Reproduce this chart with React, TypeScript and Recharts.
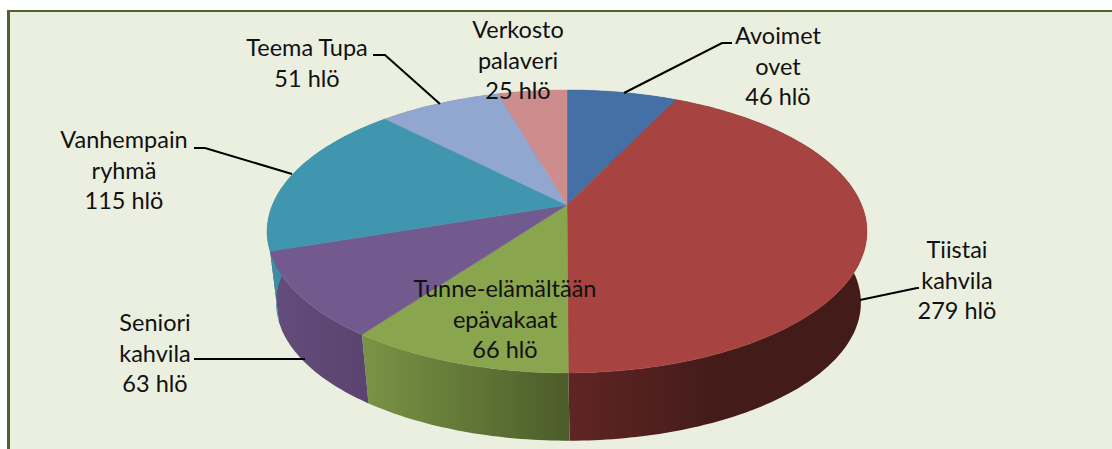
import { Cell, Pie, PieChart } from 'recharts'

const sliceNames = [
  ['Avoimet', 'ovet'],
  ['Tiistai', 'kahvila'],
  ['Tunne-elämältään', 'epävakaat'],
  ['Seniori', 'kahvila'],
  ['Vanhempain', 'ryhmä'],
  ['Teema Tupa'],
  ['Verkosto', 'palaveri'],
]
const sliceValues = [46, 279, 66, 63, 115, 51, 25]
const unit = 'hlö'

const topColors = ['#4470a5', '#a74442', '#89a54e', '#725a8e', '#4096ae', '#92a7cf', '#ce8d8d']
const wallColors = [
  '#2f4d72',
  'url(#wallRed)',
  'url(#wallGreen)',
  'url(#wallPurple)',
  '#3c8ea6',
  '#66759a',
  '#8f6262',
]

// label centre and first baseline, plus the leader line if the slice has one
const labelSpots = [
  { x: 778, y: 44, line: '624,93 722,43 732,43' },
  { x: 957, y: 258, line: '860,300 917,288 919,288' },
  { x: 505, y: 297, line: '' },
  { x: 155, y: 331, line: '194,359 305,359' },
  { x: 124, y: 148, line: '194,148 205,148 292,174' },
  { x: 307, y: 56, line: '373,55 385,55 440,104' },
  { x: 518, y: 38, line: '' },
]

const chartData = sliceValues.map((value, i) => ({ name: sliceNames[i].join(' '), value }))

const CX = 567
const CY = 205
const RADIUS = 300
const TILT = 0.187 // perspective, far edge is smaller
const X_SCALE = 0.982
const Y_SCALE = 0.455
const WALL_DROP = 72
const WALL_SHIFT = 1.5
const WALL_SHRINK = 0.975
const SKEW_DEG = 2 // the 3D camera pulls the left side back a little

const ramp = (t: number) => Math.min(1, Math.max(0, t))

function project(cx: number, cy: number, r: number, deg: number) {
  // deg counts counter-clockwise from east, clockwise from north is easier here
  const fromNorth = ((90 - deg) % 360 + 360) % 360
  const skew = SKEW_DEG * ramp((fromNorth - 30) / 190) * ramp((360 - fromNorth) / 14)
  const a = ((deg + skew) * Math.PI) / 180
  const w = 1 + TILT * Math.sin(a)
  return [cx + (r * X_SCALE * Math.cos(a)) / w, cy - (r * Y_SCALE * Math.sin(a)) / w]
}

function rimPoints(cx: number, cy: number, r: number, start: number, end: number) {
  const steps = Math.max(2, Math.ceil(Math.abs(end - start)))
  const pts: number[][] = []
  for (let i = 0; i <= steps; i++) {
    pts.push(project(cx, cy, r, start + ((end - start) * i) / steps))
  }
  return pts
}

const toPath = (pts: number[][]) =>
  'M' + pts.map((p) => p[0].toFixed(1) + ' ' + p[1].toFixed(1)).join('L') + 'Z'

function TopFace(props: any) {
  const { cx, cy, outerRadius, startAngle, endAngle, fill } = props
  const pts = [[cx, cy], ...rimPoints(cx, cy, outerRadius, startAngle, endAngle)]
  return <path d={toPath(pts)} fill={fill} stroke={fill} strokeWidth={0.5} />
}

function WallFace(props: any) {
  const { cx, cy, outerRadius, startAngle, endAngle, fill } = props
  const upper = rimPoints(cx, cy, outerRadius, startAngle, endAngle)
  const lower = rimPoints(cx + WALL_SHIFT, cy + WALL_DROP, outerRadius * WALL_SHRINK, startAngle, endAngle)
  return <path d={toPath([...upper, ...lower.reverse()])} fill={fill} stroke="none" />
}

function SliceLabel(props: any) {
  const { index, value } = props
  const spot = labelSpots[index]
  const lines = [...sliceNames[index], `${value} ${unit}`]
  return (
    <g>
      {spot.line && <polyline points={spot.line} fill="none" stroke="#000" strokeWidth={2} />}
      <text
        x={spot.x}
        y={spot.y}
        textAnchor="middle"
        fontFamily="Lato, sans-serif"
        fontSize={23.5}
        fill="#111"
      >
        {lines.map((line, i) => (
          <tspan key={i} x={spot.x} y={spot.y + i * 30.6}>
            {line}
          </tspan>
        ))}
      </text>
    </g>
  )
}

export default function App() {
  return (
    <div style={{ position: 'absolute', left: 0, top: 0, width: 1112, height: 449, background: '#fff' }}>
      <div
        style={{
          position: 'absolute',
          left: 7,
          top: 10,
          width: 1102,
          height: 438,
          background: '#ebefdf',
          borderLeft: '3px solid #4f6228',
          borderTop: '2px solid #4f6228',
        }}
      />
      <div style={{ position: 'absolute', left: 0, top: 0 }}>
        <PieChart width={1112} height={449} margin={{ top: 0, right: 0, bottom: 0, left: 0 }}>
          <defs>
            <linearGradient id="wallRed" gradientUnits="userSpaceOnUse" x1={567} y1={0} x2={720} y2={0}>
              <stop offset="0" stopColor="#602524" />
              <stop offset="1" stopColor="#431b19" />
            </linearGradient>
            <linearGradient id="wallGreen" gradientUnits="userSpaceOnUse" x1={360} y1={0} x2={567} y2={0}>
              <stop offset="0" stopColor="#7a9546" />
              <stop offset="1" stopColor="#4c5c2a" />
            </linearGradient>
            <linearGradient id="wallPurple" gradientUnits="userSpaceOnUse" x1={270} y1={0} x2={363} y2={0}>
              <stop offset="0" stopColor="#644c7c" />
              <stop offset="1" stopColor="#5c4470" />
            </linearGradient>
          </defs>
          <Pie
            data={chartData}
            dataKey="value"
            nameKey="name"
            cx={CX}
            cy={CY}
            innerRadius={0}
            outerRadius={RADIUS}
            startAngle={90}
            endAngle={-270}
            stroke="none"
            shape={WallFace}
            isAnimationActive={false}
          >
            {chartData.map((d, i) => (
              <Cell key={d.name} fill={wallColors[i]} />
            ))}
          </Pie>
          <Pie
            data={chartData}
            dataKey="value"
            nameKey="name"
            cx={CX}
            cy={CY}
            innerRadius={0}
            outerRadius={RADIUS}
            startAngle={90}
            endAngle={-270}
            stroke="none"
            shape={TopFace}
            label={SliceLabel}
            labelLine={false}
            isAnimationActive={false}
          >
            {chartData.map((d, i) => (
              <Cell key={d.name} fill={topColors[i]} />
            ))}
          </Pie>
        </PieChart>
      </div>
    </div>
  )
}
